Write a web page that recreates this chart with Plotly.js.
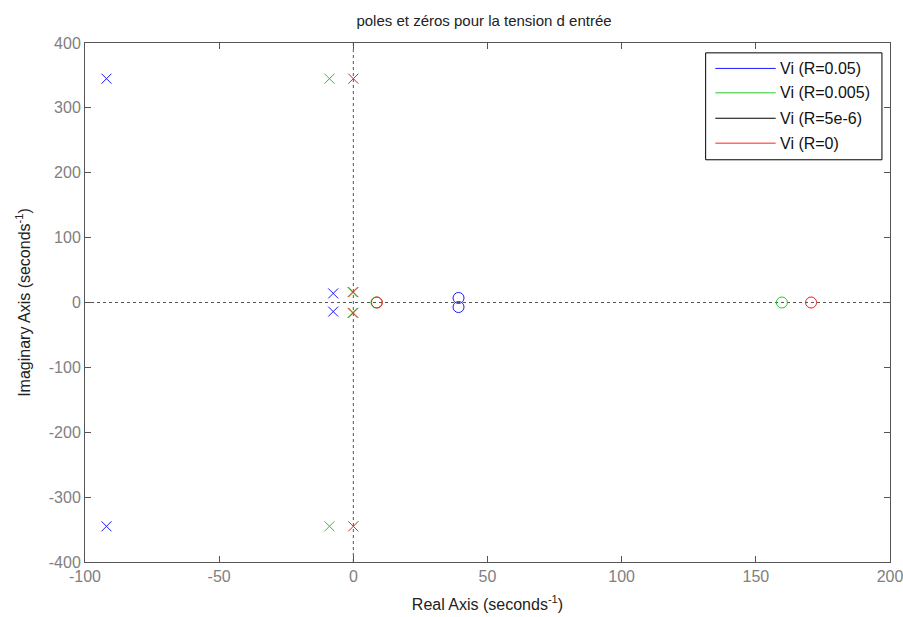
<!DOCTYPE html>
<html>
<head>
<meta charset="utf-8">
<script src="https://cdn.plot.ly/plotly-3.0.1.min.js"></script>
<style>html,body{margin:0;padding:0;background:#fff;}#chart{width:903px;height:617px;}</style>
</head>
<body>
<div id="chart"></div>
<script>
// Series names and colours
const seriesNames = ["Vi (R=0.05)", "Vi (R=0.005)", "Vi (R=5e-6)", "Vi (R=0)"];
const seriesColors = ["#1a1aff", "#22cc22", "#000000", "#ff2222"];

// Poles (real, imaginary) per series
const polesRe_R005 = [-92, -92, -7.5, -7.5];
const polesIm_R005 = [345, -345, 14, -14];
const polesRe_R0005 = [-8.9, -8.9, -0.3, -0.3];
const polesIm_R0005 = [345, -345, 16, -16];
const polesRe_R5e6 = [0, 0, 0, 0];
const polesIm_R5e6 = [345, -345, 16, -16];
const polesRe_R0 = [0, 0, 0, 0];
const polesIm_R0 = [345, -345, 16, -16];

// Zeros (real, imaginary) per series
const zerosRe_R005 = [39.2, 39.2];
const zerosIm_R005 = [7, -7];
const zerosRe_R0005 = [8.6, 159.7];
const zerosIm_R0005 = [0, 0];
const zerosRe_R5e6 = [8.8, 170.6];
const zerosIm_R5e6 = [0, 0];
const zerosRe_R0 = [8.8, 170.6];
const zerosIm_R0 = [0, 0];

// Axis ticks
const xTicks = [-100, -50, 0, 50, 100, 150, 200];
const yTicks = [-400, -300, -200, -100, 0, 100, 200, 300, 400];

const poles = [[polesRe_R005, polesIm_R005], [polesRe_R0005, polesIm_R0005], [polesRe_R5e6, polesIm_R5e6], [polesRe_R0, polesIm_R0]];
const zeros = [[zerosRe_R005, zerosIm_R005], [zerosRe_R0005, zerosIm_R0005], [zerosRe_R5e6, zerosIm_R5e6], [zerosRe_R0, zerosIm_R0]];
const markerOpacity = [1, 1, 0.08, 1];

const traces = [];
for (let i = 0; i < seriesNames.length; i++) {
  traces.push({
    type: "scatter", mode: "markers", x: poles[i][0], y: poles[i][1],
    name: seriesNames[i], showlegend: false, hoverinfo: "x+y", opacity: markerOpacity[i],
    marker: {symbol: "x-thin-open", size: 10, color: seriesColors[i], line: {color: seriesColors[i], width: 1}}
  });
  traces.push({
    type: "scatter", mode: "markers", x: zeros[i][0], y: zeros[i][1],
    name: seriesNames[i], showlegend: false, hoverinfo: "x+y", opacity: markerOpacity[i],
    marker: {symbol: "circle-open", size: 11, color: seriesColors[i], line: {color: seriesColors[i], width: 1}}
  });
}

// Manual legend (paper coords)
const legX0 = 0.771, legX1 = 0.990, legY0 = 0.775, legY1 = 0.981;
const entryY = [0.951, 0.904, 0.855, 0.807];
const shapes = [
  {type: "line", xref: "x", yref: "paper", x0: 0, x1: 0, y0: 0, y1: 1, line: {color: "#555", width: 1, dash: "dot"}, layer: "below"},
  {type: "line", xref: "paper", yref: "y", x0: 0, x1: 1, y0: 0, y1: 0, line: {color: "#555", width: 1, dash: "dot"}, layer: "below"},
  {type: "rect", xref: "paper", yref: "paper", x0: legX0, x1: legX1, y0: legY0, y1: legY1, line: {color: "#000", width: 1}, fillcolor: "#fff"}
];
const annotations = [];
for (let i = 0; i < seriesNames.length; i++) {
  shapes.push({type: "line", xref: "paper", yref: "paper", x0: 0.783, x1: 0.858, y0: entryY[i], y1: entryY[i], line: {color: seriesColors[i], width: 1}});
  annotations.push({xref: "paper", yref: "paper", x: 0.861, y: entryY[i], xanchor: "left", yanchor: "middle", showarrow: false,
    text: seriesNames[i], font: {family: "Liberation Sans, Arial, sans-serif", size: 16, color: "#111"}});
}

const layout = {
  width: 903, height: 617,
  margin: {l: 85, r: 13, t: 43, b: 55},
  paper_bgcolor: "#fff", plot_bgcolor: "#fff",
  showlegend: false,
  title: {text: "poles et zéros pour la tension d entrée", x: 0.536, xanchor: "center", y: 0.967, yanchor: "middle",
    font: {family: "Liberation Sans, Arial, sans-serif", size: 15, color: "#222"}},
  xaxis: {
    range: [-100, 200], tickvals: xTicks, ticktext: xTicks.map(String), showgrid: false, zeroline: false,
    automargin: false, ticklabeloverflow: "allow",
    showline: true, linecolor: "#555", linewidth: 1, mirror: "ticks", ticks: "inside", ticklen: 6, tickcolor: "#555",
    tickfont: {family: "Liberation Sans, Arial, sans-serif", size: 16, color: "#808080"},
    title: {text: "Real Axis (seconds<sup>-1</sup>)", standoff: 14, font: {family: "Liberation Sans, Arial, sans-serif", size: 16, color: "#222"}}
  },
  yaxis: {
    range: [-400, 400], tickvals: yTicks, ticktext: yTicks.map(String), showgrid: false, zeroline: false,
    automargin: false, ticklabeloverflow: "allow",
    showline: true, linecolor: "#555", linewidth: 1, mirror: "ticks", ticks: "inside", ticklen: 6, tickcolor: "#555",
    tickfont: {family: "Liberation Sans, Arial, sans-serif", size: 16, color: "#808080"},
    title: {text: "Imaginary Axis (seconds<sup>-1</sup>)", standoff: 14, font: {family: "Liberation Sans, Arial, sans-serif", size: 16, color: "#222"}}
  },
  shapes: shapes,
  annotations: annotations
};

Plotly.newPlot("chart", traces, layout, {displayModeBar: false, staticPlot: true});
</script>
</body>
</html>
